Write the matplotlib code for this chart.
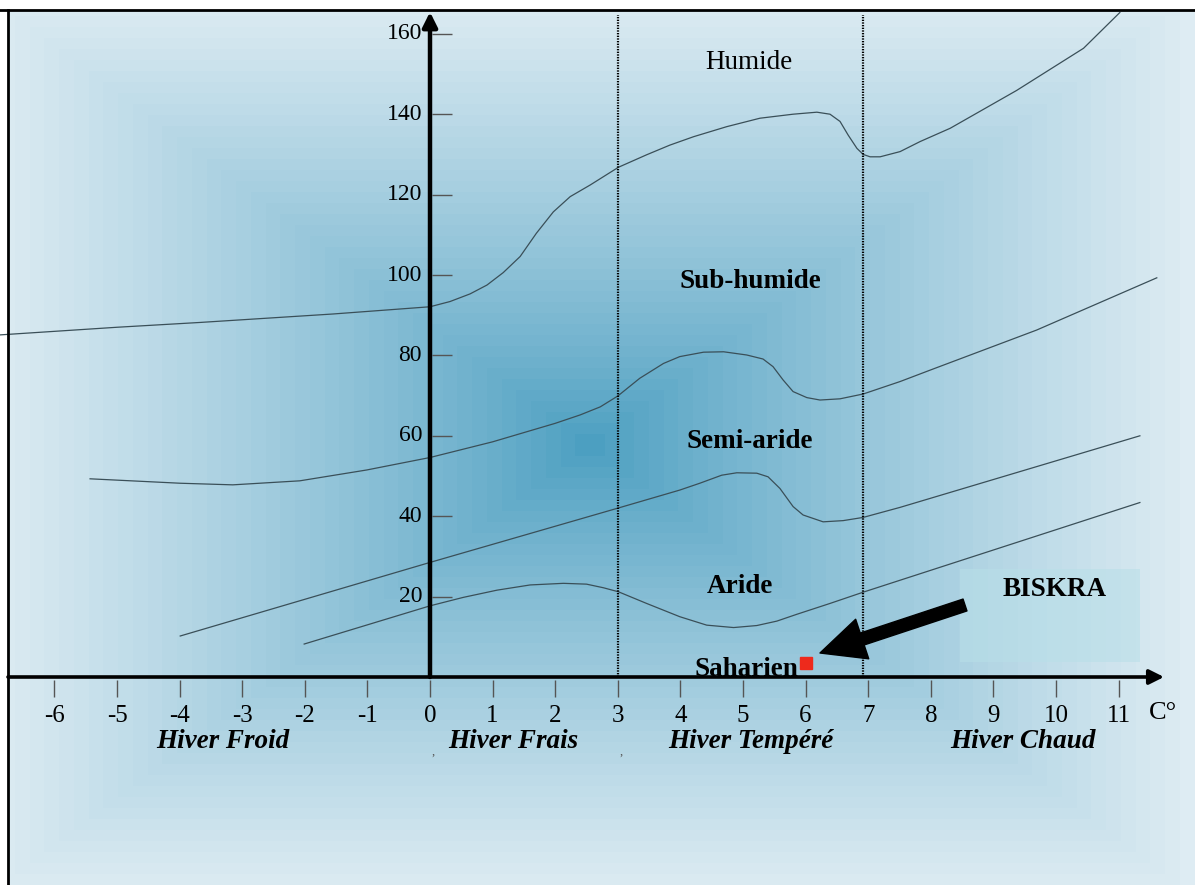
import numpy as np
import matplotlib
matplotlib.use('Agg')
import matplotlib.pyplot as plt
from matplotlib.patches import Rectangle, FancyArrowPatch
from matplotlib.lines import Line2D

plt.rcParams['font.family'] = ['Liberation Serif', 'DejaVu Serif']

# --- data (x: m in C°, y: Q2) ---
humide_x = [-6.87, -5.0, -3.67, -1.55, 0.0, 0.32, 0.64, 0.91, 1.17, 1.44, 1.70, 1.97, 2.24, 2.56,
            3.01, 3.46, 3.83, 4.21, 4.74, 5.27, 5.80, 6.18, 6.39, 6.55, 6.68, 6.82, 6.92, 7.03,
            7.19, 7.51, 7.83, 8.31, 9.37, 10.44, 11.02]
humide_y = [85.1, 87.0, 88.2, 90.3, 92.1, 93.4, 95.3, 97.5, 100.6, 104.6, 110.4, 115.7, 119.5, 122.4,
            126.8, 129.9, 132.3, 134.4, 136.9, 139.0, 140.0, 140.5, 140.0, 138.2, 134.8, 131.5, 130.0, 129.4,
            129.4, 130.7, 133.2, 136.5, 145.9, 156.4, 165.3]

subhum_x = [-5.43, -3.99, -3.15, -2.08, -1.01, 0.0, 1.0, 2.0, 2.40, 2.72, 3.0, 3.35, 3.73, 3.99,
            4.37, 4.69, 5.06, 5.32, 5.48, 5.64, 5.80, 6.02, 6.23, 6.55, 6.92, 7.51, 8.0, 9.69, 11.61]
subhum_y = [49.3, 48.2, 47.8, 48.8, 51.5, 54.6, 58.5, 63.1, 65.2, 67.2, 69.9, 74.3, 78.0, 79.7,
            80.8, 80.9, 80.1, 79.1, 77.2, 73.9, 71.0, 69.5, 68.9, 69.2, 70.4, 73.5, 76.4, 86.3, 99.3]

semiar_x = [-3.99, 0.0, 3.0, 3.99, 4.31, 4.66, 4.90, 5.22, 5.40, 5.59, 5.80, 5.96, 6.28, 6.60, 6.92,
            7.51, 11.34]
semiar_y = [10.2, 28.5, 42.0, 46.5, 48.2, 50.2, 50.8, 50.7, 49.8, 46.9, 42.4, 40.3, 38.6, 38.9, 39.7,
            42.2, 60.0]

aride_x = [-2.01, 0.0, 0.53, 1.07, 1.60, 2.13, 2.50, 2.77, 3.01, 3.46, 3.99, 4.42, 4.85, 5.22, 5.54,
           5.86, 6.39, 6.92, 11.34]
aride_y = [8.2, 17.7, 19.8, 21.6, 22.9, 23.3, 23.1, 22.2, 21.2, 18.3, 15.0, 12.9, 12.3, 12.8, 13.9,
           15.6, 18.3, 21.1, 43.4]

xticks = [-6, -5, -4, -3, -2, -1, 0, 1, 2, 3, 4, 5, 6, 7, 8, 9, 10, 11]
yticks = [20, 40, 60, 80, 100, 120, 140, 160]
winter_bounds = [3, 6.92]

zones = ['Humide', 'Sub-humide', 'Semi-aride', 'Aride', 'Saharien']
zone_x = [5.10, 5.11, 5.10, 4.95, 5.06]
zone_y = [152.8, 98.3, 58.7, 22.6, 0.3]

hivers = ['Hiver Froid', 'Hiver Frais', 'Hiver Tempéré', 'Hiver Chaud']
hiver_x = [-3.31, 1.33, 5.13, 9.47]

biskra_m = 6.0
biskra_q = 3.6

# pixel <-> data mapping of the figure
W, H = 1195, 885
x0px, xs = 430.0, 62.6
y0px, ys = 677.0, 4.02


def px2x(px):
    return (px - x0px) / xs


def py2y(py):
    return (y0px - py) / ys


fig = plt.figure(figsize=(W / 100, H / 100), dpi=100)
ax = fig.add_axes([0, 0, 1, 1])
ax.set_xlim(px2x(0), px2x(W))
ax.set_ylim(py2y(H), py2y(0))
ax.set_axis_off()

# background: concentric rectangle gradient
left, top = 8, 10
cols = np.arange(left, W) + 0.5
rows = np.arange(top, H) + 0.5
cx, cy = 590, 445
hw, hh = 590, 440
XX, YY = np.meshgrid(cols, rows)
d = np.maximum(np.abs(XX - cx) / hw, np.abs(YY - cy) / hh)
d = np.clip(np.floor(d * 40) / 40, 0, 1) ** 0.85
dark = np.array([76, 159, 193]) / 255
light = np.array([222, 236, 243]) / 255
img = dark + (light - dark) * d[..., None]
ax.imshow(img, extent=[px2x(left), px2x(W), py2y(H), py2y(top)], aspect='auto',
          interpolation='bilinear', zorder=0)

# frame (top and left)
fig.add_artist(Line2D([0, 1], [1 - top / H, 1 - top / H], color='black', lw=2))
fig.add_artist(Line2D([left / W, left / W], [0, 1 - top / H], color='black', lw=2))

# BISKRA box
ax.add_patch(Rectangle((px2x(960), py2y(662)), px2x(1140) - px2x(960), py2y(569) - py2y(662),
                       facecolor='#b8dfe8', alpha=0.55, edgecolor='none', zorder=1))

# boundary curves
for cxs, cys in [(humide_x, humide_y), (subhum_x, subhum_y), (semiar_x, semiar_y), (aride_x, aride_y)]:
    ax.plot(cxs, cys, color='#3a4f58', lw=0.9, zorder=3, solid_joinstyle='round')

# winter-type boundaries
for b in winter_bounds:
    ax.plot([b, b], [0, py2y(15)], color='black', lw=1.6, ls=(0, (0.6, 0.6)), zorder=3)

# axes with arrows
ax.annotate('', xy=(0, py2y(12)), xytext=(0, 0),
            arrowprops=dict(arrowstyle='-|>', lw=3.2, color='black', mutation_scale=22, shrinkA=0, shrinkB=0),
            zorder=5)
ax.annotate('', xy=(px2x(1164), 0), xytext=(px2x(left), 0),
            arrowprops=dict(arrowstyle='-|>', lw=2.6, color='black', mutation_scale=22, shrinkA=0, shrinkB=0),
            zorder=5)

# ticks
ax.vlines(xticks, py2y(680), py2y(697), color='#555555', lw=1, zorder=4)
ax.hlines(yticks, 2 / xs, 22 / xs, color='#555555', lw=1, zorder=4)
for t in xticks:
    ax.text(t, py2y(716), str(t), ha='center', va='center', fontsize=18, zorder=6)
for t in yticks:
    ax.text(px2x(422), t, str(t), ha='right', va='center', fontsize=17, zorder=6)
ax.text(px2x(1163), py2y(713), 'C°', ha='center', va='center', fontsize=19, zorder=6)

# zone labels
for name, zx, zy in zip(zones, zone_x, zone_y):
    ax.text(zx, zy, name, ha='center', va='baseline' if name == 'Saharien' else 'center',
            fontsize=19.5, fontweight='normal' if name == 'Humide' else 'bold', zorder=6)

for name, hx in zip(hivers, hiver_x):
    ax.text(hx, py2y(742), name, ha='center', va='center', fontsize=19.5,
            fontweight='bold', fontstyle='italic', zorder=6)
for px in [433, 621]:
    ax.text(px2x(px), py2y(752), ',', ha='center', va='center', fontsize=9, color='#555555')

# Biskra station
ax.plot([biskra_m], [biskra_q], marker='s', ms=8, color='#ee2a1c', ls='none', zorder=7)
ax.text(px2x(1055), py2y(589), 'BISKRA', ha='center', va='center', fontsize=19.5,
        fontweight='bold', zorder=6)
ax.add_patch(FancyArrowPatch((px2x(965), py2y(605)), (px2x(820), py2y(653)),
                             arrowstyle='simple,head_width=1.5,head_length=1.6,tail_width=0.45',
                             mutation_scale=20, color='black', shrinkA=0, shrinkB=0, zorder=6))

fig.savefig('out.png', dpi=100, facecolor='white')
